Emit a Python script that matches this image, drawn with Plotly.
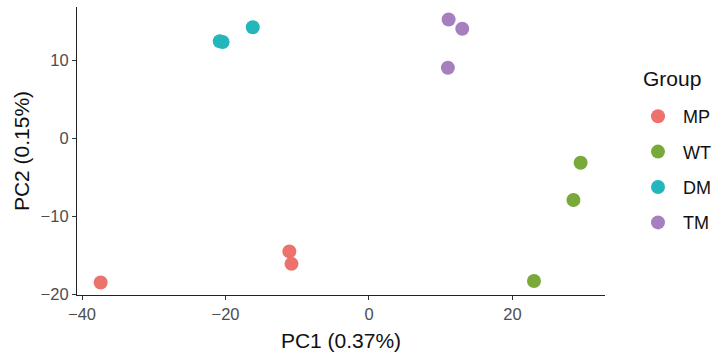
import plotly.graph_objects as go

groups = ["MP", "WT", "DM", "TM"]
colors = ["#ED726B", "#7AA93B", "#23B7BC", "#A67FBF"]
pc1 = {
    "MP": [-37.4, -11.1, -10.8],
    "WT": [29.5, 28.5, 23.0],
    "DM": [-20.8, -20.4, -16.2],
    "TM": [11.1, 13.0, 11.0],
}
pc2 = {
    "MP": [-18.5, -14.5, -16.1],
    "WT": [-3.1, -7.9, -18.3],
    "DM": [12.5, 12.4, 14.3],
    "TM": [15.3, 14.1, 9.1],
}
x_ticks = [-40, -20, 0, 20]
y_ticks = [-20, -10, 0, 10]

fig = go.Figure()
for g, c in zip(groups, colors):
    fig.add_trace(go.Scatter(
        x=pc1[g], y=pc2[g], mode="markers", name=g, legendgroup=g,
        marker=dict(color=c, size=14, line=dict(width=0)),
    ))

font = "Liberation Sans, Arial, sans-serif"
axis_common = dict(
    showline=True, linecolor="#222222", linewidth=1.2,
    ticks="outside", ticklen=4, tickcolor="#333333", tickwidth=1.1,
    showgrid=False, zeroline=False,
    tickfont=dict(family=font, size=16.5, color="#4D4D4D"),
    title_font=dict(family=font, size=21, color="#111111"),
)
fig.update_xaxes(range=[-40.7, 32.9], tickvals=x_ticks, title_text="PC1 (0.37%)",
                 title_standoff=11, **axis_common)
fig.update_yaxes(range=[-20.1, 16.9], tickvals=y_ticks, title_text="PC2 (0.15%)",
                 title_standoff=5, **axis_common)

fig.add_annotation(
    text="Group", xref="paper", yref="paper", x=(641 - 77) / 528, y=1 - (78 - 7) / 288,
    xanchor="left", yanchor="middle", showarrow=False,
    font=dict(family=font, size=21, color="#111111"),
)

fig.update_layout(
    width=717, height=358,
    margin=dict(l=77, r=112, t=7, b=63, autoexpand=False),
    plot_bgcolor="white", paper_bgcolor="white",
    font=dict(family=font),
    legend=dict(
        font=dict(family=font, size=18, color="#111111"),
        xref="container", yref="container",
        x=633 / 717, y=1 - 98 / 358, xanchor="left", yanchor="top",
        tracegroupgap=9, itemwidth=40,
    ),
    showlegend=True,
)
fig.write_html("out.html", config={"displayModeBar": False},
               post_script="document.body.style.margin='0';")
